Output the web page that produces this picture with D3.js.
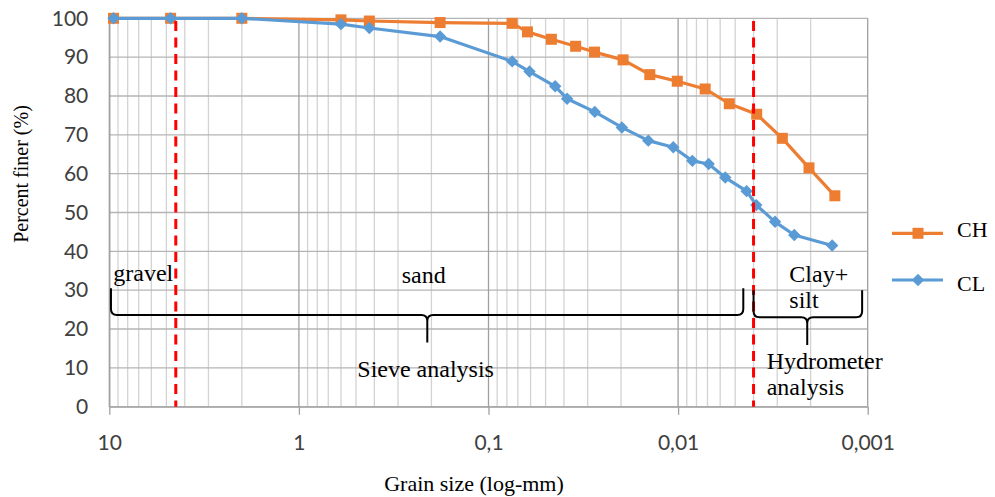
<!DOCTYPE html>
<html>
<head>
<meta charset="utf-8">
<script src="https://cdn.jsdelivr.net/npm/d3@7"></script>
<style>
  html, body { margin: 0; padding: 0; background: #fff; }
  svg { display: block; }
  .tick-label { font-family: Lato, "Open Sans", "Liberation Sans", sans-serif; font-size: 21px; fill: #404040; }
  .serif { font-family: "Liberation Serif", "Times New Roman", serif; fill: #000; }
</style>
</head>
<body>
<svg id="chart" width="995" height="497"></svg>
<script>
// Grain size distribution of two soils (sieve + hydrometer analysis)
const chSize = [9.5, 4.75, 2.0, 0.6, 0.425, 0.18, 0.075, 0.0623, 0.0466, 0.0347, 0.0276,
                0.0195, 0.0141, 0.0101, 0.0072, 0.00537, 0.00385, 0.00282, 0.00204, 0.00149];
const chFiner = [100, 100, 100, 99.6, 99.3, 98.9, 98.7, 96.5, 94.6, 92.8, 91.3,
                 89.3, 85.5, 83.8, 81.8, 78.0, 75.3, 69.1, 61.5, 54.3];

const clSize = [9.5, 4.75, 2.0, 0.6, 0.425, 0.18, 0.075, 0.0608, 0.0445, 0.0385, 0.0275,
                0.0198, 0.01436, 0.0106, 0.00841, 0.0069, 0.00564, 0.00435, 0.00387,
                0.00308, 0.00244, 0.00154];
const clFiner = [100, 100, 100, 98.5, 97.5, 95.3, 88.9, 86.3, 82.5, 79.3, 75.9,
                 71.9, 68.5, 66.8, 63.3, 62.5, 59.0, 55.5, 51.9, 47.6, 44.2, 41.5];

const seriesNames = ["CH", "CL"];
const xTickValues = [10, 1, 0.1, 0.01, 0.001];
const xTickLabels = ["10", "1", "0,1", "0,01", "0,001"];
const yTickValues = [0, 10, 20, 30, 40, 50, 60, 70, 80, 90, 100];

// Boundaries between soil fractions (mm)
const boundaries = [4.46, 0.004];

const svg = d3.select("#chart");
const x = d3.scaleLog().domain([10, 0.001]).range([109.3, 867.7]);
const y = d3.scaleLinear().domain([0, 100]).range([406.7, 18.3]);

const colors = { CH: "#ED7D31", CL: "#5B9BD5" };

// ---- grid ----
const grid = svg.append("g");
const allLogTicks = x.ticks();
const decades = new Set(xTickValues.map(v => +v.toPrecision(6)));
grid.selectAll("line.vminor")
  .data(allLogTicks.filter(v => !decades.has(+v.toPrecision(6))))
  .join("line")
  .attr("x1", d => x(d)).attr("x2", d => x(d))
  .attr("y1", y(0)).attr("y2", y(100))
  .attr("stroke", "#d3d3d3").attr("stroke-width", 1.3);

grid.selectAll("line.h")
  .data(yTickValues)
  .join("line")
  .attr("x1", x(10)).attr("x2", x(0.001))
  .attr("y1", d => y(d)).attr("y2", d => y(d))
  .attr("stroke", "#b4b4b4").attr("stroke-width", 1.3);

grid.selectAll("line.vmajor")
  .data(xTickValues)
  .join("line")
  .attr("x1", d => x(d)).attr("x2", d => x(d))
  .attr("y1", y(0)).attr("y2", y(100) )
  .attr("stroke", "#a0a0a0").attr("stroke-width", 1.3);

// ---- axes ----
const xAxis = d3.axisBottom(x)
  .tickValues(xTickValues)
  .tickFormat((d, i) => xTickLabels[i])
  .tickSizeInner(8).tickSizeOuter(0).tickPadding(20);
const gx = svg.append("g").attr("transform", `translate(0,${y(0)})`).call(xAxis);
gx.select(".domain").attr("stroke", "#a0a0a0").attr("stroke-width", 1.3);
gx.selectAll(".tick line").attr("stroke", "#a0a0a0").attr("stroke-width", 1.3);
gx.selectAll(".tick text").attr("class", "tick-label").attr("fill", null);
gx.attr("font-size", null).attr("font-family", null);

const yAxis = d3.axisLeft(y).tickValues(yTickValues).tickSize(0).tickPadding(21);
const gy = svg.append("g").attr("transform", `translate(${x(10)},0)`).call(yAxis);
gy.select(".domain").attr("stroke", "#a0a0a0").attr("stroke-width", 1.3);
gy.selectAll(".tick text").attr("class", "tick-label").attr("fill", null);
gy.attr("font-size", null).attr("font-family", null);

// ---- series ----
const line = d3.line().x(d => x(d[0])).y(d => y(d[1]));
const squarePath = s => `M${-s},${-s}h${2 * s}v${2 * s}h${-2 * s}Z`;
const diamondPath = s => `M0,${-s}L${s},0L0,${s}L${-s},0Z`;

function drawSeries(name, sizes, finer, markerPath) {
  const pts = sizes.map((d, i) => [d, finer[i]]);
  const g = svg.append("g");
  g.append("path").datum(pts).attr("d", line)
    .attr("fill", "none").attr("stroke", colors[name])
    .attr("stroke-width", 3.2).attr("stroke-linejoin", "round");
  g.selectAll("path.m").data(pts).join("path")
    .attr("d", markerPath)
    .attr("transform", d => `translate(${x(d[0])},${y(d[1])})`)
    .attr("fill", colors[name]);
}
drawSeries("CH", chSize, chFiner, squarePath(5.5));
drawSeries("CL", clSize, clFiner, diamondPath(6.2));

// ---- fraction boundaries ----
svg.selectAll("line.boundary").data(boundaries).join("line")
  .attr("x1", d => x(d)).attr("x2", d => x(d))
  .attr("y1", y(99.3)).attr("y2", y(0))
  .attr("stroke", "#ff0000").attr("stroke-width", 3)
  .attr("stroke-dasharray", "10,6.5");

// ---- braces ----
function brace(x0, x1, xt, yTop, yMid, yTip, r) {
  return `M${x0},${yTop}L${x0},${yMid - r}Q${x0},${yMid} ${x0 + r},${yMid}` +
         `L${xt - r},${yMid}Q${xt},${yMid} ${xt},${yMid + r}L${xt},${yTip}` +
         `M${xt},${yMid + r}Q${xt},${yMid} ${xt + r},${yMid}` +
         `L${x1 - r},${yMid}Q${x1},${yMid} ${x1},${yMid - r}L${x1},${yTop}`;
}
const ann = svg.append("g");
ann.append("path")
  .attr("d", brace(x(9.8), x(0.00453), x(0.2103), y(30.5), y(23.6), y(16.5), 6))
  .attr("fill", "none").attr("stroke", "#000").attr("stroke-width", 2);
ann.append("path")
  .attr("d", brace(x(0.0040), x(0.00107), x(0.002084), y(30.0), y(23.0), y(15.9), 6))
  .attr("fill", "none").attr("stroke", "#000").attr("stroke-width", 2);

const annText = [
  { t: "gravel", d: 9.53, v: 32.4 },
  { t: "sand", d: 0.287, v: 31.9 },
  { t: "Sieve analysis", d: 0.492, v: 7.6 },
  { t: "Clay+", d: 0.00259, v: 32.1 },
  { t: "silt", d: 0.00259, v: 25.4 },
  { t: "Hydrometer", d: 0.00341, v: 9.6 },
  { t: "analysis", d: 0.00341, v: 3.0 }
];
ann.selectAll("text").data(annText).join("text")
  .attr("class", "serif")
  .attr("x", d => x(d.d)).attr("y", d => y(d.v))
  .attr("font-size", 24)
  .text(d => d.t);

// ---- axis titles ----
svg.append("text").attr("class", "serif")
  .attr("x", 474).attr("y", 491).attr("text-anchor", "middle")
  .attr("font-size", 22).text("Grain size (log-mm)");
svg.append("text").attr("class", "serif")
  .attr("transform", "translate(28,174) rotate(-90)")
  .attr("text-anchor", "middle").attr("font-size", 20)
  .text("Percent finer (%)");

// ---- legend ----
const legend = svg.append("g");
const legendRows = [
  { name: "CH", ly: 233.3, ty: 236.7, marker: squarePath(5.5) },
  { name: "CL", ly: 280, ty: 290.7, marker: diamondPath(6.2) }
];
legendRows.forEach(r => {
  legend.append("line").attr("x1", 892).attr("x2", 943)
    .attr("y1", r.ly).attr("y2", r.ly)
    .attr("stroke", colors[r.name]).attr("stroke-width", 3.2);
  legend.append("path").attr("d", r.marker)
    .attr("transform", `translate(918,${r.ly})`).attr("fill", colors[r.name]);
  legend.append("text").attr("class", "serif")
    .attr("x", 957).attr("y", r.ty).attr("font-size", 22).text(r.name);
});
</script>
</body>
</html>
